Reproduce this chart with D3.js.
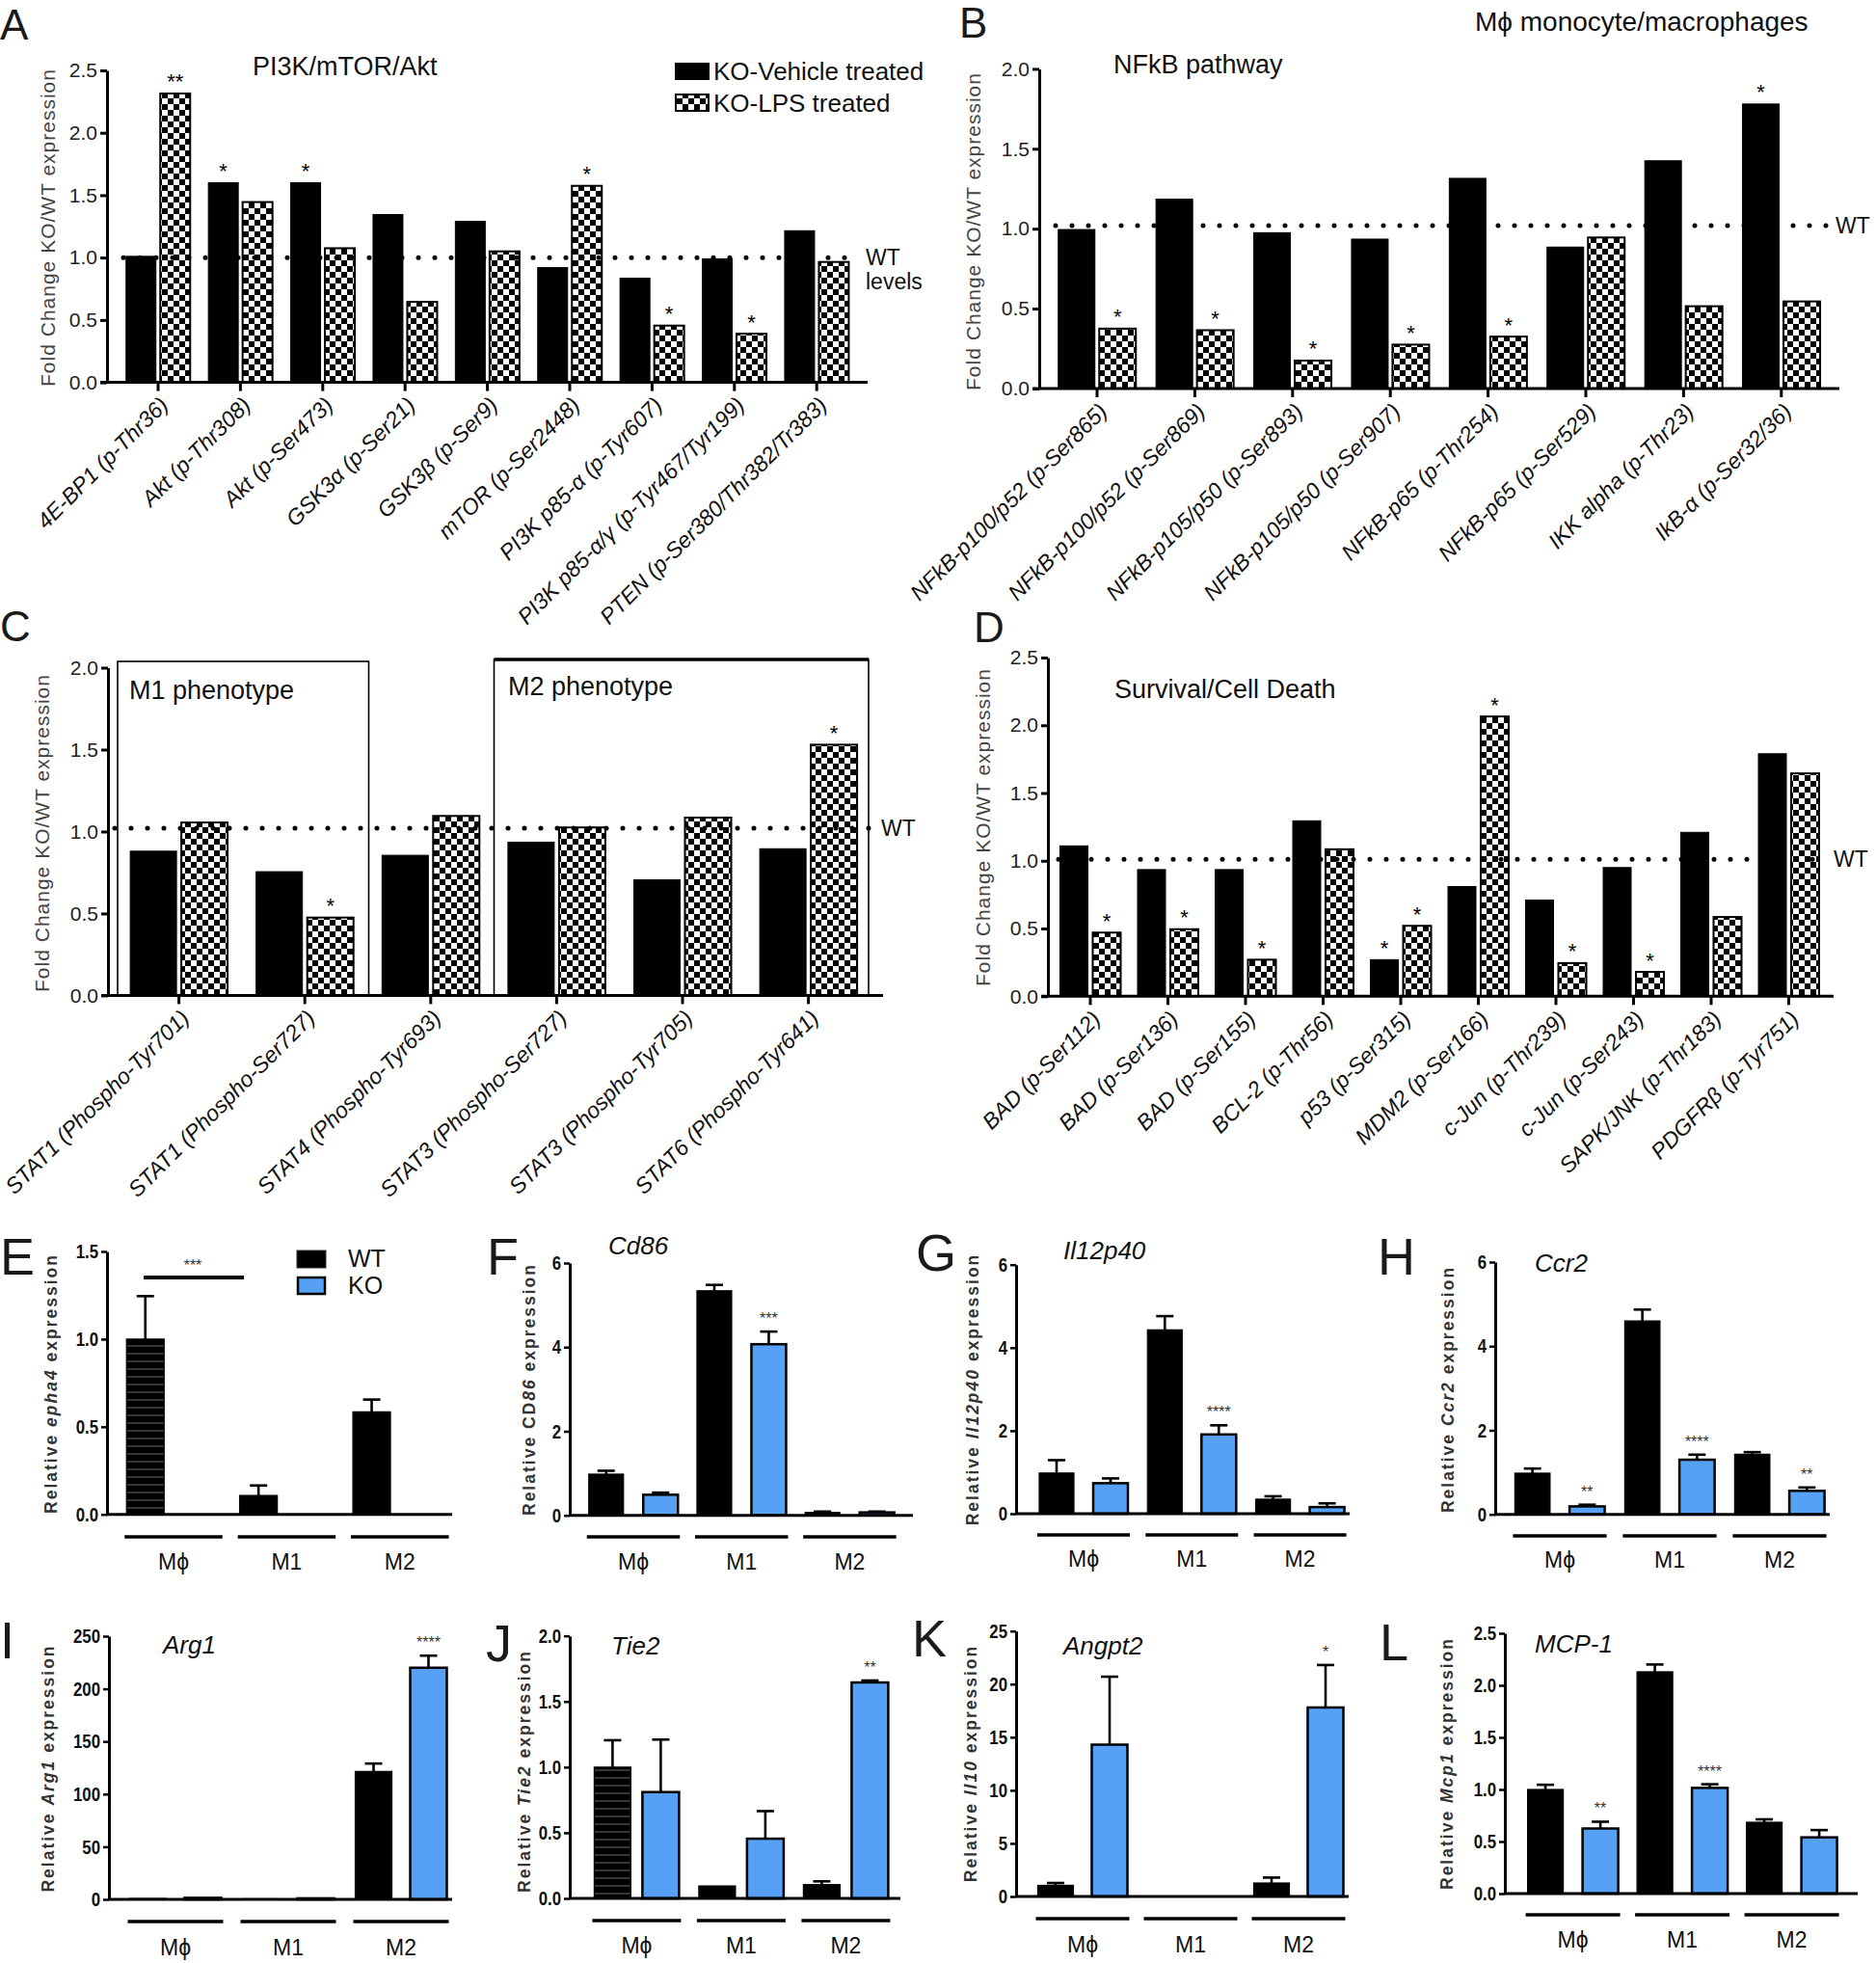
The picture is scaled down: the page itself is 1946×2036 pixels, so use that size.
<!DOCTYPE html>
<html><head><meta charset="utf-8">
<script src="https://cdn.jsdelivr.net/npm/d3@7"></script>
<style>
body{margin:0;background:#fff;}
svg{display:block;font-family:"Liberation Sans",Arial,Helvetica,sans-serif;}
</style></head><body>
<svg id="fig" width="1946" height="2036"></svg>
<script>
// ================= DATA =================
const aCategories = ["4E-BP1 (p-Thr36)","Akt (p-Thr308)","Akt (p-Ser473)","GSK3α (p-Ser21)","GSK3β (p-Ser9)","mTOR (p-Ser2448)","PI3K p85-α (p-Tyr607)","PI3K p85-α/γ (p-Tyr467/Tyr199)","PTEN (p-Ser380/Thr382/Tr383)"];
const aVehicle = [1.01,1.60,1.60,1.345,1.29,0.92,0.835,0.99,1.215];
const aLPS = [2.315,1.445,1.075,0.645,1.05,1.575,0.455,0.39,0.965];
const aVehicleStars = ["","*","*","","","","","",""];
const aLPSStars = ["**","","","","","*","*","*",""];

const bCategories = ["NFkB-p100/p52 (p-Ser865)","NFkB-p100/p52 (p-Ser869)","NFkB-p105/p50 (p-Ser893)","NFkB-p105/p50 (p-Ser907)","NFkB-p65 (p-Thr254)","NFkB-p65 (p-Ser529)","IKK alpha (p-Thr23)","IkB-α (p-Ser32/36)"];
const bVehicle = [0.995,1.185,0.975,0.935,1.315,0.885,1.425,1.78];
const bLPS = [0.375,0.365,0.175,0.275,0.325,0.945,0.515,0.545];
const bVehicleStars = ["","","","","","","","*"];
const bLPSStars = ["*","*","*","*","*","","",""];

const cCategories = ["STAT1 (Phospho-Tyr701)","STAT1 (Phospho-Ser727)","STAT4 (Phospho-Tyr693)","STAT3 (Phospho-Ser727)","STAT3 (Phospho-Tyr705)","STAT6 (Phospho-Tyr641)"];
const cVehicle = [0.88,0.755,0.855,0.935,0.705,0.895];
const cLPS = [1.055,0.475,1.095,1.025,1.085,1.53];
const cVehicleStars = ["","","","","",""];
const cLPSStars = ["","*","","","","*"];

const dCategories = ["BAD (p-Ser112)","BAD (p-Ser136)","BAD (p-Ser155)","BCL-2 (p-Thr56)","p53 (p-Ser315)","MDM2 (p-Ser166)","c-Jun (p-Thr239)","c-Jun (p-Ser243)","SAPK/JNK (p-Thr183)","PDGFRβ (p-Tyr751)"];
const dVehicle = [1.11,0.935,0.935,1.295,0.27,0.81,0.71,0.95,1.21,1.79];
const dLPS = [0.47,0.495,0.27,1.085,0.52,2.065,0.245,0.18,0.585,1.645];
const dVehicleStars = ["","","","","*","","","","",""];
const dLPSStars = ["*","*","*","","*","*","*","*","",""];

const wtLevels = {A:1.0, B:1.02, C:1.02, D:1.01};

const cellGroups = ["Mϕ","M1","M2"];
const eWT=[1.0,0.108,0.585], eWTErr=[1.245,0.165,0.655], eKO=[0,0,0], eKOErr=[0,0,0], eKOStars=["","",""];
const fWT=[0.98,5.34,0.07], fWTErr=[1.06,5.48,0.09], fKO=[0.49,4.07,0.07], fKOErr=[0.54,4.37,0.09], fKOStars=["","***",""];
const gWT=[0.98,4.43,0.35], gWTErr=[1.29,4.76,0.42], gKO=[0.735,1.91,0.16], gKOErr=[0.85,2.13,0.25], gKOStars=["","****",""];
const hWT=[0.98,4.6,1.43], hWTErr=[1.09,4.87,1.48], hKO=[0.19,1.3,0.56], hKOErr=[0.23,1.42,0.64], hKOStars=["**","****","**"];
const iWT=[0.8,0.5,121.5], iWTErr=[0.8,0.5,129], iKO=[1.5,1.0,220], iKOErr=[1.5,1.0,231.5], iKOStars=["","","****"];
const jWT=[1.0,0.095,0.105], jWTErr=[1.205,0.095,0.13], jKO=[0.81,0.455,1.645], jKOErr=[1.21,0.665,1.66], jKOStars=["","","**"];
const kWT=[1.05,0,1.27], kWTErr=[1.27,0,1.78], kKO=[14.3,0,17.8], kKOErr=[20.7,0,21.8], kKOStars=["","","*"];
const lWT=[1.0,2.13,0.685], lWTErr=[1.045,2.2,0.713], lKO=[0.625,1.015,0.54], lKOErr=[0.69,1.05,0.61], lKOStars=["**","****",""];

// ================= DRAWING =================
const svg = d3.select("#fig");
const FONT = '"Liberation Sans",Arial,Helvetica,sans-serif';
const BLUE = "#56a0f6";

const defs = svg.append("defs");
const chk = defs.append("pattern").attr("id","checker").attr("patternUnits","userSpaceOnUse").attr("width",12).attr("height",12);
chk.append("rect").attr("width",12).attr("height",12).attr("fill","#fff");
chk.append("rect").attr("width",6).attr("height",6).attr("fill","#000");
chk.append("rect").attr("x",6).attr("y",6).attr("width",6).attr("height",6).attr("fill","#000");
const str = defs.append("pattern").attr("id","stripes").attr("patternUnits","userSpaceOnUse").attr("width",10).attr("height",8);
str.append("rect").attr("width",10).attr("height",8).attr("fill","#000");
str.append("line").attr("x1",0).attr("x2",10).attr("y1",4).attr("y2",4).attr("stroke","#4a4a4a").attr("stroke-width",1.4);

function txt(g, t, x, y, size, opts={}) {
  const e = g.append("text").attr("x",x).attr("y",y).attr("font-size",size)
    .attr("font-family",opts.family||FONT).attr("fill",opts.fill||"#111")
    .attr("text-anchor",opts.anchor||"start").text(t);
  if (opts.italic) e.attr("font-style","italic");
  if (opts.weight) e.attr("font-weight",opts.weight);
  return e;
}

function groupedPanel(cfg){
  const g = svg.append("g");
  const n = cfg.categories.length;
  const x = d3.scaleBand().domain(cfg.categories)
    .range([cfg.c0 - cfg.step/2, cfg.c0 - cfg.step/2 + n*cfg.step]);
  const sub = d3.scaleBand().domain(["veh","lps"])
    .range([cfg.step/2 - cfg.bw - cfg.gap/2, cfg.step/2 + cfg.bw + cfg.gap/2])
    .paddingInner(cfg.gap/(cfg.bw+cfg.gap));
  const y = d3.scaleLinear().domain([0,cfg.yMax]).range([cfg.y0, cfg.yTop]);

  if (cfg.boxes) cfg.boxes.forEach(b => {
    g.append("rect").attr("x",b.x0).attr("y",b.top).attr("width",b.x1-b.x0).attr("height",cfg.y0-b.top)
      .attr("fill","none").attr("stroke","#000").attr("stroke-width",1.6);
    if (b.thick) g.append("line").attr("x1",b.x0).attr("x2",b.x1).attr("y1",b.top).attr("y2",b.top).attr("stroke","#000").attr("stroke-width",3.5);
    txt(g, b.label, b.tx, b.ty, 27);
  });

  const rows = [];
  cfg.categories.forEach((c,i) => {
    rows.push({c, k:"veh", v:cfg.veh[i], s:cfg.vehStars[i]});
    rows.push({c, k:"lps", v:cfg.lps[i], s:cfg.lpsStars[i]});
  });
  g.selectAll("rect.bar").data(rows).join("rect").attr("class","bar")
    .attr("x", d => x(d.c) + sub(d.k)).attr("width", sub.bandwidth())
    .attr("y", d => y(d.v)).attr("height", d => y(0) - y(d.v))
    .attr("fill", d => d.k === "veh" ? "#000" : "url(#checker)")
    .attr("stroke", "#000").attr("stroke-width", d => d.k === "veh" ? 1 : 2);
  g.selectAll("text.star").data(rows.filter(d => d.s)).join("text").attr("class","star")
    .attr("x", d => x(d.c) + sub(d.k) + sub.bandwidth()/2).attr("y", d => y(d.v) - 4.5)
    .attr("text-anchor","middle").attr("font-size",22).attr("font-family",FONT).text(d => d.s);

  // WT dotted line
  g.append("line").attr("x1",cfg.wtX0).attr("x2",cfg.wtX1).attr("y1",y(cfg.wt)).attr("y2",y(cfg.wt))
    .attr("stroke","#000").attr("stroke-width",5).attr("stroke-linecap","round").attr("stroke-dasharray","0,17");
  cfg.wtText.forEach((t,i) => txt(g, t, cfg.wtTx, y(cfg.wt) + 8 + i*25, 23));

  // axes
  const ya = g.append("g").attr("transform",`translate(${cfg.axisX},0)`)
    .call(d3.axisLeft(y).tickValues(cfg.ticks).tickFormat(d3.format(".1f")).tickSize(7).tickSizeOuter(0).tickPadding(3));
  ya.select(".domain").attr("stroke-width",3);
  ya.selectAll(".tick line").attr("stroke-width",3);
  ya.selectAll(".tick text").attr("font-size",21).attr("font-family",FONT).attr("fill","#222");
  const xa = g.append("g").attr("transform",`translate(0,${cfg.y0})`)
    .call(d3.axisBottom(x).tickSize(9).tickSizeOuter(0).tickFormat(""));
  xa.select(".domain").remove();
  xa.selectAll(".tick line").attr("stroke-width",3);
  g.append("line").attr("x1",cfg.axisX-7).attr("x2",cfg.axisEnd).attr("y1",cfg.y0).attr("y2",cfg.y0)
    .attr("stroke","#000").attr("stroke-width",3);

  g.selectAll("text.xl").data(cfg.categories).join("text").attr("class","xl")
    .attr("transform", d => `translate(${x(d) + x.bandwidth()/2 + 12},${cfg.y0 + 25}) rotate(-45)`)
    .attr("text-anchor","end").attr("font-style","italic").attr("font-size",23)
    .attr("font-family",FONT).attr("fill","#111").text(d => d);

  // y label
  g.append("text").attr("transform",`translate(${cfg.ylx},${cfg.yly}) rotate(-90)`)
    .attr("text-anchor","middle").attr("dy","0.35em").attr("font-size",21).attr("letter-spacing",1)
    .attr("font-family",FONT).attr("fill","#444").text("Fold Change KO/WT expression");
  if (cfg.title) txt(g, cfg.title.t, cfg.title.x, cfg.title.y, 27);
  txt(g, cfg.letter.t, cfg.letter.x, cfg.letter.y, 44, {fill:"#1a1a1a"});
  return g;
}

function exprPanel(cfg){
  const g = svg.append("g");
  const x = d3.scaleBand().domain(cellGroups)
    .range([cfg.g0 - cfg.gstep/2, cfg.g0 - cfg.gstep/2 + 3*cfg.gstep]);
  const sub = d3.scaleBand().domain(["WT","KO"])
    .range([cfg.gstep/2 - cfg.sep/2 - cfg.bw/2, cfg.gstep/2 + cfg.sep/2 + cfg.bw/2])
    .paddingInner((cfg.sep - cfg.bw)/cfg.sep);
  const y = d3.scaleLinear().domain([0,cfg.yMax]).range([cfg.y0, cfg.yTop]);
  const rows = [];
  cellGroups.forEach((grp,i) => {
    rows.push({grp, k:"WT", v:cfg.wt[i], e:cfg.wtErr[i], s:"", i});
    rows.push({grp, k:"KO", v:cfg.ko[i], e:cfg.koErr[i], s:cfg.koStars[i], i});
  });
  const cx = d => x(d.grp) + sub(d.k) + sub.bandwidth()/2;
  // error bars
  const eb = rows.filter(d => d.e > d.v);
  g.selectAll("line.err").data(eb).join("line").attr("class","err")
    .attr("x1",cx).attr("x2",cx).attr("y1",d=>y(d.v)).attr("y2",d=>y(d.e))
    .attr("stroke","#000").attr("stroke-width",2.6);
  g.selectAll("line.cap").data(eb).join("line").attr("class","cap")
    .attr("x1",d=>cx(d)-9).attr("x2",d=>cx(d)+9).attr("y1",d=>y(d.e)).attr("y2",d=>y(d.e))
    .attr("stroke","#000").attr("stroke-width",2.6);
  // bars
  g.selectAll("rect.bar").data(rows.filter(d => d.v > 0)).join("rect").attr("class","bar")
    .attr("x", d => x(d.grp) + sub(d.k)).attr("width", sub.bandwidth())
    .attr("y", d => y(d.v)).attr("height", d => y(0) - y(d.v))
    .attr("fill", d => d.k === "KO" ? BLUE : (cfg.striped && d.i === 0 ? "url(#stripes)" : "#000"))
    .attr("stroke","#000").attr("stroke-width", d => d.k === "KO" ? 2.5 : 1.2);
  g.selectAll("text.star").data(rows.filter(d => d.s)).join("text").attr("class","star")
    .attr("x", cx).attr("y", d => y(Math.max(d.e,d.v)) - 8).attr("text-anchor","middle")
    .attr("font-size",16).attr("font-family",FONT).attr("fill","#333").text(d => d.s);

  // axes
  const SX = 0.8;
  const ya = g.append("g").attr("transform",`translate(${cfg.axisX},0)`)
    .call(d3.axisLeft(y).tickValues(cfg.ticks).tickFormat(d3.format(cfg.fmt)).tickSize(6).tickSizeOuter(0).tickPadding(3));
  ya.select(".domain").attr("stroke-width",3);
  ya.selectAll(".tick line").attr("stroke-width",2.5);
  ya.selectAll(".tick text").attr("font-size",21).attr("font-weight","bold").attr("font-family",FONT).attr("fill","#111")
    .attr("x", -9/SX).attr("transform",`scale(${SX},1)`);
  g.append("line").attr("x1",cfg.axisX).attr("x2",cfg.axisEnd).attr("y1",cfg.y0).attr("y2",cfg.y0)
    .attr("stroke","#000").attr("stroke-width",3);

  // group underlines & labels
  g.selectAll("line.grp").data(cellGroups).join("line").attr("class","grp")
    .attr("x1", d => x(d) + sub("WT") - 2).attr("x2", d => x(d) + sub("KO") + sub.bandwidth() + 2)
    .attr("y1", cfg.lineY).attr("y2", cfg.lineY).attr("stroke","#000").attr("stroke-width",3.5);
  g.selectAll("text.grp").data(cellGroups).join("text").attr("class","grp")
    .attr("x", d => x(d) + x.bandwidth()/2).attr("y", cfg.labY + 8).attr("text-anchor","middle")
    .attr("font-size",23).attr("font-family",FONT).attr("fill","#111").text(d => d);

  // y label
  const yl = g.append("text").attr("transform",`translate(${cfg.ylx},${cfg.yly}) rotate(-90)`)
    .attr("text-anchor","middle").attr("dy","0.35em").attr("font-size",17.5).attr("letter-spacing",2)
    .attr("font-weight","bold").attr("font-family",FONT).attr("fill","#333");
  yl.append("tspan").text(cfg.ylPre || "Relative ");
  yl.append("tspan").attr("font-style","italic").text(cfg.gene);
  yl.append("tspan").text(" expression");

  if (cfg.title) txt(g, cfg.title.t, cfg.title.x, cfg.title.y, 26, {italic:true});
  txt(g, cfg.letter.t, cfg.letter.x, cfg.letter.y, 54, {fill:"#1a1a1a"});
  return g;
}

// ---------- Panels A-D ----------
const gA = groupedPanel({categories:aCategories, veh:aVehicle, lps:aLPS, vehStars:aVehicleStars, lpsStars:aLPSStars,
  c0:164, step:85.4, bw:31, gap:4.5, yMax:2.5, ticks:[0,0.5,1,1.5,2,2.5], y0:396.6, yTop:73, axisX:111, axisEnd:900,
  wt:wtLevels.A, wtX0:128, wtX1:890, wtTx:898, wtText:["WT","levels"], ylx:50, yly:236,
  title:{t:"PI3K/mTOR/Akt", x:262, y:78}, letter:{t:"A", x:0, y:41}});
// legend A
gA.append("rect").attr("x",700).attr("y",65).attr("width",36).attr("height",18).attr("fill","#000");
gA.append("rect").attr("x",701).attr("y",98).attr("width",34).attr("height",17).attr("fill","url(#checker)").attr("stroke","#000").attr("stroke-width",2);
txt(gA,"KO-Vehicle treated",740,83,26);
txt(gA,"KO-LPS treated",740,116,26);

groupedPanel({categories:bCategories, veh:bVehicle, lps:bLPS, vehStars:bVehicleStars, lpsStars:bLPSStars,
  c0:1138, step:101.4, bw:38, gap:4.5, yMax:2.0, ticks:[0,0.5,1,1.5,2], y0:403, yTop:71.4, axisX:1078, axisEnd:1908,
  wt:wtLevels.B, wtX0:1095, wtX1:1898, wtTx:1904, wtText:["WT"], ylx:1010, yly:240,
  title:{t:"NFkB pathway", x:1155, y:76}, letter:{t:"B", x:995, y:39}});
txt(svg,"Mϕ monocyte/macrophages",1530,32,28);

groupedPanel({categories:cCategories, veh:cVehicle, lps:cLPS, vehStars:cVehicleStars, lpsStars:cLPSStars,
  c0:185.6, step:130.6, bw:48, gap:5, yMax:2.0, ticks:[0,0.5,1,1.5,2], y0:1032.4, yTop:692.5, axisX:112, axisEnd:916,
  wt:wtLevels.C, wtX0:119, wtX1:903, wtTx:914, wtText:["WT"], ylx:44, yly:864,
  boxes:[{x0:122,x1:382.5,top:686,label:"M1 phenotype",tx:134,ty:725},{x0:512.5,x1:901,top:684,thick:true,label:"M2 phenotype",tx:527,ty:721}],
  letter:{t:"C", x:0, y:665}});

groupedPanel({categories:dCategories, veh:dVehicle, lps:dLPS, vehStars:dVehicleStars, lpsStars:dLPSStars,
  c0:1131, step:80.5, bw:29, gap:5, yMax:2.5, ticks:[0,0.5,1,1.5,2,2.5], y0:1033.3, yTop:682, axisX:1087, axisEnd:1902,
  wt:wtLevels.D, wtX0:1098, wtX1:1895, wtTx:1902, wtText:["WT"], ylx:1020, yly:858,
  title:{t:"Survival/Cell Death", x:1156, y:724}, letter:{t:"D", x:1010, y:666}});

// ---------- Panels E-L ----------
const gE = exprPanel({wt:eWT, wtErr:eWTErr, ko:eKO, koErr:eKOErr, koStars:eKOStars, striped:true,
  g0:180, gstep:117.4, sep:58.5, bw:39, yMax:1.5, ticks:[0,0.5,1,1.5], fmt:".1f",
  y0:1570.7, yTop:1298, axisX:111, axisEnd:469, lineY:1594, labY:1620, ylx:53, yly:1435, gene:"epha4",
  letter:{t:"E", x:0, y:1322}});
gE.append("rect").attr("x",308).attr("y",1297).attr("width",30).attr("height",18).attr("fill","#000").attr("stroke","#333");
gE.append("rect").attr("x",309).attr("y",1325).attr("width",28).attr("height",17).attr("fill",BLUE).attr("stroke","#000").attr("stroke-width",2.5);
txt(gE,"WT",361,1314,25);
txt(gE,"KO",361,1342,25);
gE.append("line").attr("x1",149).attr("x2",253).attr("y1",1325).attr("y2",1325).attr("stroke","#000").attr("stroke-width",4);
txt(gE,"***",200,1318,16,{anchor:"middle",fill:"#333"});

exprPanel({wt:fWT, wtErr:fWTErr, ko:fKO, koErr:fKOErr, koStars:fKOStars,
  g0:657, gstep:112.2, sep:56.5, bw:36, yMax:6, ticks:[0,2,4,6], fmt:"d",
  y0:1571.7, yTop:1310, axisX:591, axisEnd:947, lineY:1594, labY:1620, ylx:549, yly:1441, ylPre:"Relative CD", gene:"86",
  title:{t:"Cd86", x:631, y:1301}, letter:{t:"F", x:505, y:1322}});

exprPanel({wt:gWT, wtErr:gWTErr, ko:gKO, koErr:gKOErr, koStars:gKOStars,
  g0:1124, gstep:112.3, sep:56, bw:36, yMax:6, ticks:[0,2,4,6], fmt:"d",
  y0:1570, yTop:1311.7, axisX:1054, axisEnd:1400, lineY:1592, labY:1617, ylx:1009, yly:1441, gene:"Il12p40",
  title:{t:"Il12p40", x:1103, y:1306}, letter:{t:"G", x:950, y:1318}});

exprPanel({wt:hWT, wtErr:hWTErr, ko:hKO, koErr:hKOErr, koStars:hKOStars,
  g0:1618, gstep:114, sep:56.7, bw:36.5, yMax:6, ticks:[0,2,4,6], fmt:"d",
  y0:1570.7, yTop:1309, axisX:1551, axisEnd:1898, lineY:1593, labY:1618, ylx:1502, yly:1441, gene:"Ccr2",
  title:{t:"Ccr2", x:1592, y:1319}, letter:{t:"H", x:1429, y:1322}});

exprPanel({wt:iWT, wtErr:iWTErr, ko:iKO, koErr:iKOErr, koStars:iKOStars,
  g0:182, gstep:117, sep:57, bw:38, yMax:250, ticks:[0,50,100,150,200,250], fmt:"d",
  y0:1970, yTop:1697, axisX:113, axisEnd:469, lineY:1993, labY:2020, ylx:50, yly:1834, gene:"Arg1",
  title:{t:"Arg1", x:169, y:1715}, letter:{t:"I", x:0, y:1720}});

exprPanel({wt:jWT, wtErr:jWTErr, ko:jKO, koErr:jKOErr, koStars:jKOStars, striped:true,
  g0:660.4, gstep:108.5, sep:50, bw:38, yMax:2, ticks:[0,0.5,1,1.5,2], fmt:".1f",
  y0:1969, yTop:1696.7, axisX:591, axisEnd:934, lineY:1992, labY:2018, ylx:544, yly:1837, gene:"Tie2",
  title:{t:"Tie2", x:634, y:1716}, letter:{t:"J", x:504, y:1723}});

exprPanel({wt:kWT, wtErr:kWTErr, ko:kKO, koErr:kKOErr, koStars:kKOStars,
  g0:1123, gstep:112, sep:56, bw:37, yMax:25, ticks:[0,5,10,15,20,25], fmt:"d",
  y0:1967, yTop:1691.7, axisX:1054, axisEnd:1399, lineY:1990, labY:2017, ylx:1007, yly:1829, gene:"Il10",
  title:{t:"Angpt2", x:1103, y:1716}, letter:{t:"K", x:946, y:1718}});

exprPanel({wt:lWT, wtErr:lWTErr, ko:lKO, koErr:lKOErr, koStars:lKOStars,
  g0:1631.6, gstep:113.5, sep:57, bw:37, yMax:2.5, ticks:[0,0.5,1,1.5,2,2.5], fmt:".1f",
  y0:1964, yTop:1694, axisX:1561, axisEnd:1927, lineY:1986, labY:2012, ylx:1501, yly:1829, gene:"Mcp1",
  title:{t:"MCP-1", x:1592, y:1714}, letter:{t:"L", x:1431, y:1722}});
</script>
</body></html>
